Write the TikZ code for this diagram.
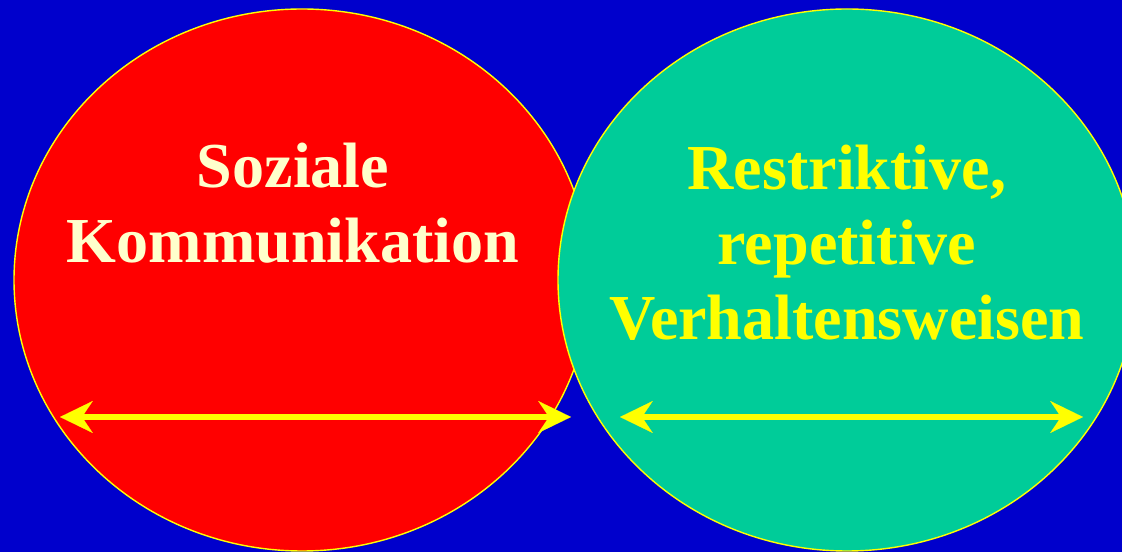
\documentclass[tikz,border=0pt]{standalone}
\usepackage{fontspec}
\setmainfont{Liberation Serif}
\usetikzlibrary{arrows.meta}
\definecolor{slideblue}{HTML}{0000CC}
\definecolor{socialred}{HTML}{FF0000}
\definecolor{repgreen}{HTML}{00CC99}
\definecolor{rimyellow}{HTML}{FFFF00}
\definecolor{cream}{HTML}{FFFFCC}
\begin{document}
\begin{tikzpicture}[
		blob/.style={draw=rimyellow, line width=1pt},
		span/.style={draw=rimyellow, line width=4.5pt,
			{Stealth[length=8.2mm, width=8mm, inset=2.7mm, line width=0.1pt]}-{Stealth[length=8.2mm, width=8mm, inset=2.7mm, line width=0.1pt]}},
		title/.style={font=\fontsize{45.6}{53.6}\selectfont\bfseries, align=center}
	]
		\useasboundingbox (0,0) rectangle (28.05,13.8);
		\clip (0,0) rectangle (28.05,13.8);
		\fill [slideblue] (0,0) rectangle (28.05,13.8);
		\draw [blob, fill=socialred] (7.55,6.8) ellipse [x radius=7.2, y radius=6.775];
		\draw [blob, fill=repgreen] (21.175,6.8) ellipse [x radius=7.225, y radius=6.775];
		\node [title, text=cream, anchor=base] at (7.325,7.225) (social) {Soziale\\Kommunikation};
		\node [title, text=rimyellow, anchor=base] at (21.175,5.3) (restrictive) {Restriktive,\\repetitive\\Verhaltensweisen};
		\coordinate (socL) at (1.5,3.375);
		\coordinate (socR) at (14.275,3.375);
		\coordinate (resL) at (15.5,3.375);
		\coordinate (resR) at (27.075,3.375);
		\draw [span] (socL) -- (socR);
		\draw [span] (resL) -- (resR);
		
		\end{tikzpicture}
\end{document}
